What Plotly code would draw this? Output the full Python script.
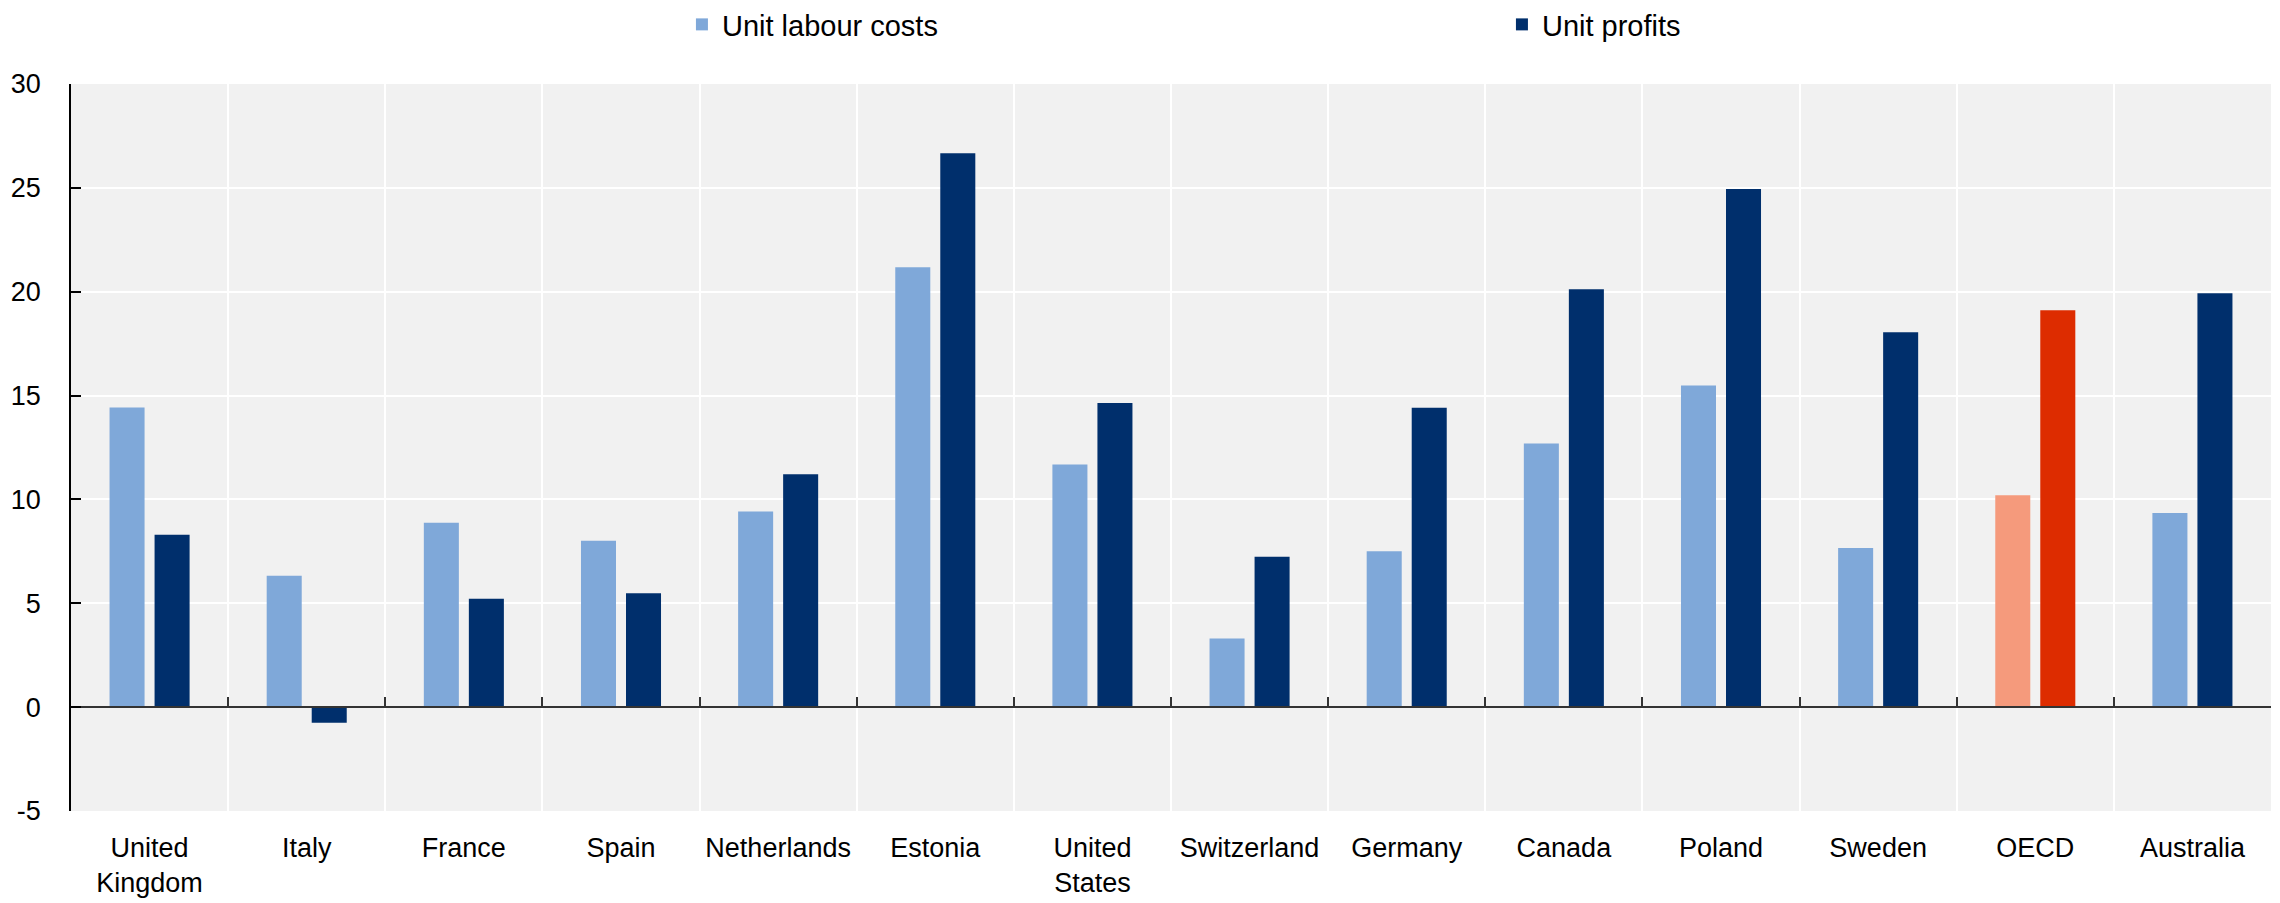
import plotly.graph_objects as go

categories = ["United Kingdom", "Italy", "France", "Spain", "Netherlands", "Estonia",
              "United States", "Switzerland", "Germany", "Canada", "Poland", "Sweden",
              "OECD", "Australia"]
tick_labels = ["United<br>Kingdom", "Italy", "France", "Spain", "Netherlands", "Estonia",
               "United<br>States", "Switzerland", "Germany", "Canada", "Poland", "Sweden",
               "OECD", "Australia"]
unit_labour_costs = [14.43, 6.32, 8.88, 8.01, 9.42, 21.18, 11.68, 3.31, 7.50, 12.69, 15.49, 7.66, 10.20, 9.35]
unit_profits = [8.30, -0.75, 5.22, 5.48, 11.21, 26.67, 14.64, 7.24, 14.41, 20.12, 24.94, 18.05, 19.11, 19.93]
y_ticks = [-5, 0, 5, 10, 15, 20, 25, 30]
y_tick_text = [str(v) for v in y_ticks]

LIGHT, DARK = "#7FA8D9", "#002F6C"
HL_LIGHT, HL_DARK = "#F59A7C", "#DD2C00"
highlight = "OECD"
light_colors = [HL_LIGHT if c == highlight else LIGHT for c in categories]
dark_colors = [HL_DARK if c == highlight else DARK for c in categories]

FONT = "Liberation Sans, Arial, sans-serif"

fig = go.Figure()
fig.add_trace(go.Bar(x=categories, y=unit_labour_costs, name="Unit labour costs",
                     legendwidth=775,
                     marker=dict(color=light_colors, line=dict(width=0))))
fig.add_trace(go.Bar(x=categories, y=unit_profits, name="Unit profits",
                     legendwidth=150,
                     marker=dict(color=dark_colors, line=dict(width=0))))
# empty helper trace so the zero-line axis (with boundary ticks) is drawn
fig.add_trace(go.Scatter(x=[], y=[], xaxis="x2", showlegend=False, hoverinfo="skip"))

n = len(categories)
bounds = [i - 0.5 for i in range(n + 1)]

fig.update_layout(
    width=2280, height=903,
    margin=dict(l=63, r=17, t=76, b=100, autoexpand=False),
    paper_bgcolor="white", plot_bgcolor="#F1F1F1",
    barmode="group", bargap=0.427, bargroupgap=0.222,
    font=dict(family=FONT, size=27, color="black"),
    legend=dict(orientation="h", x=0.2777, xanchor="left", y=1.0818, yanchor="middle",
                font=dict(family=FONT, size=29), traceorder="normal",
                bgcolor="rgba(0,0,0,0)"),
    xaxis=dict(type="category", categoryorder="array", categoryarray=categories,
               tickmode="array", tickvals=categories, ticktext=tick_labels,
               tickson="boundaries", ticks="", showgrid=True, gridcolor="white",
               gridwidth=2, showline=False, zeroline=False, range=[-0.5, n - 0.5],
               tickangle=0, ticklabelstandoff=18),
    xaxis2=dict(overlaying="x", anchor="free", position=5 / 35, side="bottom",
                range=[-0.5, n - 0.5], tickmode="array", tickvals=bounds,
                ticks="inside", ticklen=9, tickwidth=1.5, tickcolor="#333",
                showticklabels=False, showgrid=False, zeroline=False,
                showline=True, linecolor="#333", linewidth=1.5),
    yaxis=dict(range=[-5, 30], tickmode="array", tickvals=y_ticks, ticktext=y_tick_text,
               showgrid=True, gridcolor="white", gridwidth=1.5, zeroline=False,
               showline=True, linecolor="black", linewidth=1.5,
               ticks="inside", ticklen=10, tickwidth=1.5, tickcolor="black",
               ticklabelstandoff=23),
)

fig.write_html("out.html")
